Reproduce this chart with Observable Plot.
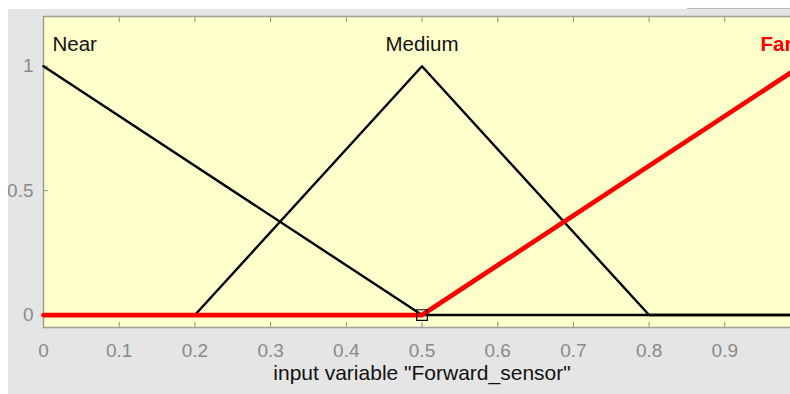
<!DOCTYPE html>
<html>
<head>
<meta charset="utf-8">
<script src="https://cdn.jsdelivr.net/npm/d3@7"></script>
<script src="https://cdn.jsdelivr.net/npm/@observablehq/plot@0.6"></script>
<style>
  html, body { margin: 0; padding: 0; background: #ffffff; overflow: hidden; }
  #panel {
    position: absolute; left: 8px; top: 9px; width: 802px; height: 385px;
    background: #e5e5e5; overflow: hidden;
  }
  #topline {
    position: absolute; left: 687px; top: 8px; width: 120px; height: 2px; background: #b9b9b9;
  }
  #panel svg { display: block; }
</style>
</head>
<body>
<div id="topline"></div>
<div id="panel"></div>
<script>
// Membership functions of the input variable "Forward_sensor" (x in [0, 1])
const nearX = [0, 0.5, 1];
const nearY = [1, 0, 0];
const mediumX = [0, 0.2, 0.5, 0.8, 1];
const mediumY = [0, 0, 1, 0, 0];
const farX = [0, 0.5, 1];
const farY = [0, 0, 1];

// Label for each function, placed at its peak
const mfNames = ["Near", "Medium", "Far"];
const mfPeakX = [0, 0.5, 1];
const mfPeakY = [1, 1, 1];

const xTicks = [0, 0.1, 0.2, 0.3, 0.4, 0.5, 0.6, 0.7, 0.8, 0.9];
const yTicks = [0, 0.5, 1];
const xLabel = 'input variable "Forward_sensor"';

// Selected point marker
const markX = [0.5];
const markY = [0];

const toPts = (xs, ys) => xs.map((x, i) => ({x, y: ys[i]}));
const near = toPts(nearX, nearY);
const medium = toPts(mediumX, mediumY);
const far = toPts(farX, farY);
const labels = mfNames.map((name, i) => ({name, x: mfPeakX[i], y: mfPeakY[i]}));

const font = "'Liberation Sans', Arial, Helvetica, sans-serif";
const tickGray = "#8a8a8a";
const fmt = d3.format("~g");

const chart = Plot.plot({
  width: 802,
  height: 385,
  marginLeft: 35,
  marginTop: 7,
  marginRight: 10,
  marginBottom: 67,
  style: {fontFamily: font, background: "transparent", overflow: "visible"},
  x: {domain: [0, 1]},
  y: {domain: [-0.05, 1.2]},
  marks: [
    Plot.frame({fill: "#ffffcc", stroke: "none"}),
    // inward tick marks on all four sides
    Plot.axisX(xTicks, {anchor: "bottom", tickSize: -5, tickFormat: () => "", label: null, stroke: "#8a8a8a"}),
    Plot.axisX(xTicks, {anchor: "top", tickSize: -5, tickFormat: () => "", label: null, stroke: "#8a8a8a"}),
    Plot.axisY(yTicks, {anchor: "left", tickSize: -5, tickFormat: () => "", label: null, stroke: "#8a8a8a"}),
    // tick labels
    Plot.axisX(xTicks, {anchor: "bottom", tickSize: 0, tickPadding: 16, label: null, tickFormat: fmt, fontSize: 19, fill: tickGray}),
    Plot.axisY(yTicks, {anchor: "left", tickSize: 0, tickPadding: 10, label: null, tickFormat: fmt, fontSize: 19, fill: tickGray}),
    Plot.frame({stroke: "#a0a0a0", strokeWidth: 1.6}),
    Plot.line(near, {x: "x", y: "y", stroke: "#000000", strokeWidth: 2.4}),
    Plot.line(medium, {x: "x", y: "y", stroke: "#000000", strokeWidth: 2.4}),
    Plot.line(far, {x: "x", y: "y", stroke: "#ff0000", strokeWidth: 4.8}),
    Plot.dot(toPts(markX, markY), {x: "x", y: "y", symbol: "square", r: 6, stroke: "#000000", strokeWidth: 1.2, fill: "none"}),
    Plot.text(labels.slice(0, 1), {x: "x", y: "y", text: "name", textAnchor: "start", dx: 9, dy: -22, fontSize: 20.5, fill: "#111111"}),
    Plot.text(labels.slice(1, 2), {x: "x", y: "y", text: "name", textAnchor: "middle", dy: -22, fontSize: 20.5, fill: "#111111"}),
    Plot.text(labels.slice(2, 3), {x: "x", y: "y", text: "name", textAnchor: "start", dx: -40, dy: -22, fontSize: 20.5, fontWeight: "bold", fill: "#ff0000"}),
    Plot.text([xLabel], {frameAnchor: "bottom", dy: 52, text: d => d, fontSize: 21, fill: "#111111"})
  ]
});

document.getElementById("panel").appendChild(chart);
</script>
</body>
</html>
